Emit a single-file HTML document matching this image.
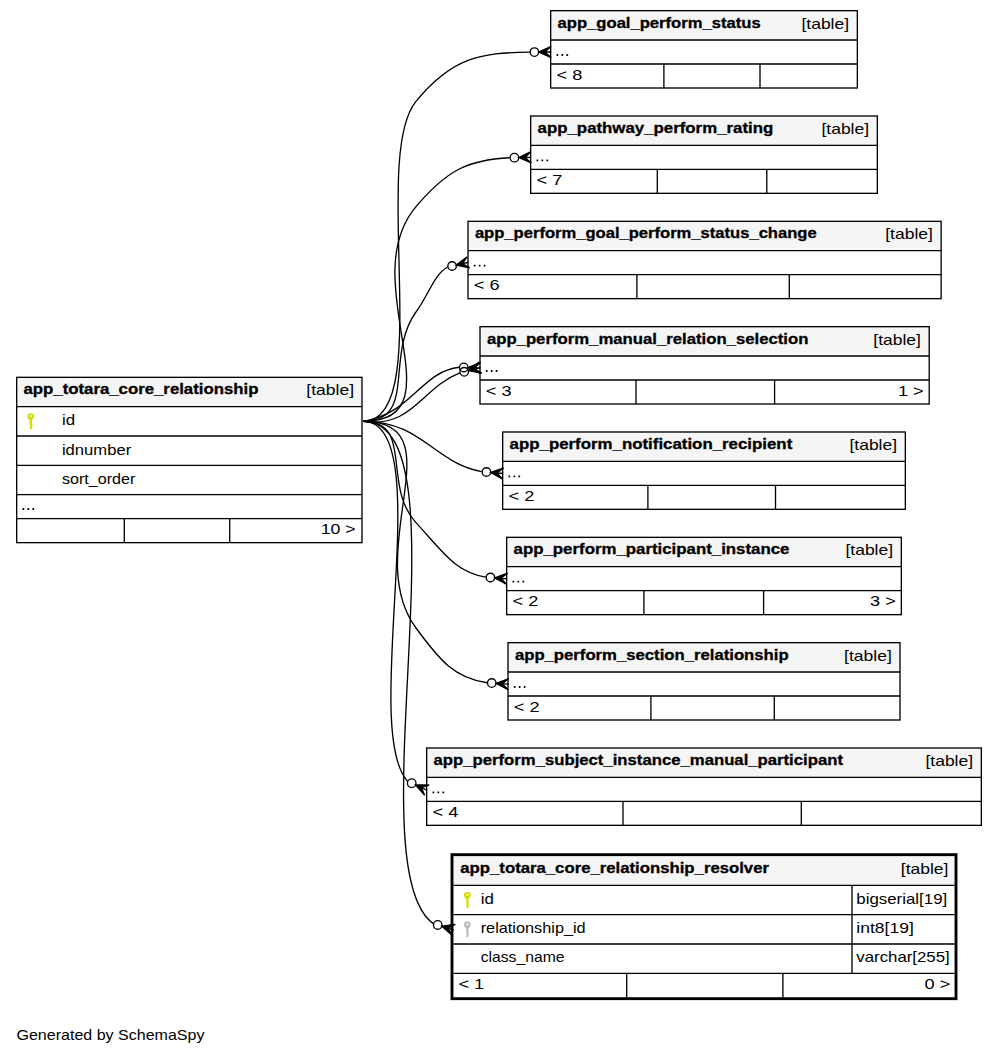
<!DOCTYPE html>
<html><head><meta charset="utf-8"><style>
html,body{margin:0;padding:0;background:#fff;}
svg{display:block;}
text{font-family:"Liberation Sans",sans-serif;}
</style></head><body>
<svg width="997" height="1055" viewBox="0 0 997 1055">
<rect x="0" y="0" width="997" height="1055" fill="#fff"/>
<rect x="550.67" y="10.67" width="306.67" height="29.33" fill="#f5f5f5" stroke="none" stroke-width="1.0"/>
<rect x="550.67" y="10.67" width="306.67" height="77.33" fill="none" stroke="#000" stroke-width="1.33"/>
<line x1="550.67" y1="40.00" x2="857.33" y2="40.00" stroke="#000" stroke-width="1.33"/>
<line x1="550.67" y1="64.00" x2="857.33" y2="64.00" stroke="#000" stroke-width="1.33"/>
<line x1="663.90" y1="64.00" x2="663.90" y2="88.00" stroke="#000" stroke-width="1.33"/>
<line x1="760.00" y1="64.00" x2="760.00" y2="88.00" stroke="#000" stroke-width="1.33"/>
<text x="557.57" y="27.57" font-weight="bold" font-size="15.0" textLength="203.11" lengthAdjust="spacingAndGlyphs" fill="#000" stroke="#000" stroke-width="0.3">app_goal_perform_status</text>
<text x="801.43" y="28.67" font-weight="normal" font-size="15.0" textLength="47.71" lengthAdjust="spacingAndGlyphs" fill="#000">[table]</text>
<rect x="556.52" y="54.05" width="1.7" height="1.9" rx="0.35" fill="#000"/>
<rect x="561.47" y="54.05" width="1.7" height="1.9" rx="0.35" fill="#000"/>
<rect x="566.42" y="54.05" width="1.7" height="1.9" rx="0.35" fill="#000"/>
<text x="556.47" y="79.80" font-weight="normal" font-size="15.0" textLength="25.80" lengthAdjust="spacingAndGlyphs" fill="#000">&lt; 8</text>
<rect x="530.67" y="116.00" width="346.67" height="29.33" fill="#f5f5f5" stroke="none" stroke-width="1.0"/>
<rect x="530.67" y="116.00" width="346.67" height="77.33" fill="none" stroke="#000" stroke-width="1.33"/>
<line x1="530.67" y1="145.33" x2="877.33" y2="145.33" stroke="#000" stroke-width="1.33"/>
<line x1="530.67" y1="169.33" x2="877.33" y2="169.33" stroke="#000" stroke-width="1.33"/>
<line x1="657.30" y1="169.33" x2="657.30" y2="193.33" stroke="#000" stroke-width="1.33"/>
<line x1="766.80" y1="169.33" x2="766.80" y2="193.33" stroke="#000" stroke-width="1.33"/>
<text x="537.57" y="132.90" font-weight="bold" font-size="15.0" textLength="235.70" lengthAdjust="spacingAndGlyphs" fill="#000" stroke="#000" stroke-width="0.3">app_pathway_perform_rating</text>
<text x="821.43" y="134.00" font-weight="normal" font-size="15.0" textLength="47.71" lengthAdjust="spacingAndGlyphs" fill="#000">[table]</text>
<rect x="536.52" y="159.38" width="1.7" height="1.9" rx="0.35" fill="#000"/>
<rect x="541.47" y="159.38" width="1.7" height="1.9" rx="0.35" fill="#000"/>
<rect x="546.42" y="159.38" width="1.7" height="1.9" rx="0.35" fill="#000"/>
<text x="536.47" y="185.13" font-weight="normal" font-size="15.0" textLength="25.80" lengthAdjust="spacingAndGlyphs" fill="#000">&lt; 7</text>
<rect x="468.00" y="221.33" width="473.15" height="29.33" fill="#f5f5f5" stroke="none" stroke-width="1.0"/>
<rect x="468.00" y="221.33" width="473.15" height="77.33" fill="none" stroke="#000" stroke-width="1.33"/>
<line x1="468.00" y1="250.67" x2="941.15" y2="250.67" stroke="#000" stroke-width="1.33"/>
<line x1="468.00" y1="274.67" x2="941.15" y2="274.67" stroke="#000" stroke-width="1.33"/>
<line x1="636.90" y1="274.67" x2="636.90" y2="298.67" stroke="#000" stroke-width="1.33"/>
<line x1="789.30" y1="274.67" x2="789.30" y2="298.67" stroke="#000" stroke-width="1.33"/>
<text x="474.90" y="238.23" font-weight="bold" font-size="15.0" textLength="341.78" lengthAdjust="spacingAndGlyphs" fill="#000" stroke="#000" stroke-width="0.3">app_perform_goal_perform_status_change</text>
<text x="885.24" y="239.33" font-weight="normal" font-size="15.0" textLength="47.71" lengthAdjust="spacingAndGlyphs" fill="#000">[table]</text>
<rect x="473.85" y="264.72" width="1.7" height="1.9" rx="0.35" fill="#000"/>
<rect x="478.80" y="264.72" width="1.7" height="1.9" rx="0.35" fill="#000"/>
<rect x="483.75" y="264.72" width="1.7" height="1.9" rx="0.35" fill="#000"/>
<text x="473.80" y="290.47" font-weight="normal" font-size="15.0" textLength="25.80" lengthAdjust="spacingAndGlyphs" fill="#000">&lt; 6</text>
<rect x="480.00" y="326.67" width="449.20" height="29.33" fill="#f5f5f5" stroke="none" stroke-width="1.0"/>
<rect x="480.00" y="326.67" width="449.20" height="77.33" fill="none" stroke="#000" stroke-width="1.33"/>
<line x1="480.00" y1="356.00" x2="929.20" y2="356.00" stroke="#000" stroke-width="1.33"/>
<line x1="480.00" y1="380.00" x2="929.20" y2="380.00" stroke="#000" stroke-width="1.33"/>
<line x1="636.00" y1="380.00" x2="636.00" y2="404.00" stroke="#000" stroke-width="1.33"/>
<line x1="774.60" y1="380.00" x2="774.60" y2="404.00" stroke="#000" stroke-width="1.33"/>
<text x="486.90" y="343.57" font-weight="bold" font-size="15.0" textLength="321.48" lengthAdjust="spacingAndGlyphs" fill="#000" stroke="#000" stroke-width="0.3">app_perform_manual_relation_selection</text>
<text x="873.29" y="344.67" font-weight="normal" font-size="15.0" textLength="47.71" lengthAdjust="spacingAndGlyphs" fill="#000">[table]</text>
<rect x="485.85" y="370.05" width="1.7" height="1.9" rx="0.35" fill="#000"/>
<rect x="490.80" y="370.05" width="1.7" height="1.9" rx="0.35" fill="#000"/>
<rect x="495.75" y="370.05" width="1.7" height="1.9" rx="0.35" fill="#000"/>
<text x="485.80" y="395.80" font-weight="normal" font-size="15.0" textLength="25.80" lengthAdjust="spacingAndGlyphs" fill="#000">&lt; 3</text>
<text x="897.90" y="395.80" font-weight="normal" font-size="15.0" textLength="25.80" lengthAdjust="spacingAndGlyphs" fill="#000">1 &gt;</text>
<rect x="502.67" y="432.00" width="402.67" height="29.33" fill="#f5f5f5" stroke="none" stroke-width="1.0"/>
<rect x="502.67" y="432.00" width="402.67" height="77.33" fill="none" stroke="#000" stroke-width="1.33"/>
<line x1="502.67" y1="461.33" x2="905.33" y2="461.33" stroke="#000" stroke-width="1.33"/>
<line x1="502.67" y1="485.33" x2="905.33" y2="485.33" stroke="#000" stroke-width="1.33"/>
<line x1="647.90" y1="485.33" x2="647.90" y2="509.33" stroke="#000" stroke-width="1.33"/>
<line x1="775.50" y1="485.33" x2="775.50" y2="509.33" stroke="#000" stroke-width="1.33"/>
<text x="509.57" y="448.90" font-weight="bold" font-size="15.0" textLength="282.71" lengthAdjust="spacingAndGlyphs" fill="#000" stroke="#000" stroke-width="0.3">app_perform_notification_recipient</text>
<text x="849.43" y="450.00" font-weight="normal" font-size="15.0" textLength="47.71" lengthAdjust="spacingAndGlyphs" fill="#000">[table]</text>
<rect x="508.52" y="475.38" width="1.7" height="1.9" rx="0.35" fill="#000"/>
<rect x="513.47" y="475.38" width="1.7" height="1.9" rx="0.35" fill="#000"/>
<rect x="518.42" y="475.38" width="1.7" height="1.9" rx="0.35" fill="#000"/>
<text x="508.47" y="501.13" font-weight="normal" font-size="15.0" textLength="25.80" lengthAdjust="spacingAndGlyphs" fill="#000">&lt; 2</text>
<rect x="506.67" y="537.33" width="394.67" height="29.33" fill="#f5f5f5" stroke="none" stroke-width="1.0"/>
<rect x="506.67" y="537.33" width="394.67" height="77.33" fill="none" stroke="#000" stroke-width="1.33"/>
<line x1="506.67" y1="566.67" x2="901.33" y2="566.67" stroke="#000" stroke-width="1.33"/>
<line x1="506.67" y1="590.67" x2="901.33" y2="590.67" stroke="#000" stroke-width="1.33"/>
<line x1="643.90" y1="590.67" x2="643.90" y2="614.67" stroke="#000" stroke-width="1.33"/>
<line x1="763.60" y1="590.67" x2="763.60" y2="614.67" stroke="#000" stroke-width="1.33"/>
<text x="513.57" y="554.23" font-weight="bold" font-size="15.0" textLength="275.87" lengthAdjust="spacingAndGlyphs" fill="#000" stroke="#000" stroke-width="0.3">app_perform_participant_instance</text>
<text x="845.43" y="555.33" font-weight="normal" font-size="15.0" textLength="47.71" lengthAdjust="spacingAndGlyphs" fill="#000">[table]</text>
<rect x="512.52" y="580.72" width="1.7" height="1.9" rx="0.35" fill="#000"/>
<rect x="517.47" y="580.72" width="1.7" height="1.9" rx="0.35" fill="#000"/>
<rect x="522.42" y="580.72" width="1.7" height="1.9" rx="0.35" fill="#000"/>
<text x="512.47" y="606.47" font-weight="normal" font-size="15.0" textLength="25.80" lengthAdjust="spacingAndGlyphs" fill="#000">&lt; 2</text>
<text x="870.03" y="606.47" font-weight="normal" font-size="15.0" textLength="25.80" lengthAdjust="spacingAndGlyphs" fill="#000">3 &gt;</text>
<rect x="508.00" y="642.67" width="392.00" height="29.33" fill="#f5f5f5" stroke="none" stroke-width="1.0"/>
<rect x="508.00" y="642.67" width="392.00" height="77.33" fill="none" stroke="#000" stroke-width="1.33"/>
<line x1="508.00" y1="672.00" x2="900.00" y2="672.00" stroke="#000" stroke-width="1.33"/>
<line x1="508.00" y1="696.00" x2="900.00" y2="696.00" stroke="#000" stroke-width="1.33"/>
<line x1="650.90" y1="696.00" x2="650.90" y2="720.00" stroke="#000" stroke-width="1.33"/>
<line x1="774.30" y1="696.00" x2="774.30" y2="720.00" stroke="#000" stroke-width="1.33"/>
<text x="514.90" y="659.57" font-weight="bold" font-size="15.0" textLength="273.76" lengthAdjust="spacingAndGlyphs" fill="#000" stroke="#000" stroke-width="0.3">app_perform_section_relationship</text>
<text x="844.09" y="660.67" font-weight="normal" font-size="15.0" textLength="47.71" lengthAdjust="spacingAndGlyphs" fill="#000">[table]</text>
<rect x="513.85" y="686.05" width="1.7" height="1.9" rx="0.35" fill="#000"/>
<rect x="518.80" y="686.05" width="1.7" height="1.9" rx="0.35" fill="#000"/>
<rect x="523.75" y="686.05" width="1.7" height="1.9" rx="0.35" fill="#000"/>
<text x="513.80" y="711.80" font-weight="normal" font-size="15.0" textLength="25.80" lengthAdjust="spacingAndGlyphs" fill="#000">&lt; 2</text>
<rect x="426.67" y="748.00" width="554.67" height="29.33" fill="#f5f5f5" stroke="none" stroke-width="1.0"/>
<rect x="426.67" y="748.00" width="554.67" height="77.33" fill="none" stroke="#000" stroke-width="1.33"/>
<line x1="426.67" y1="777.33" x2="981.33" y2="777.33" stroke="#000" stroke-width="1.33"/>
<line x1="426.67" y1="801.33" x2="981.33" y2="801.33" stroke="#000" stroke-width="1.33"/>
<line x1="623.00" y1="801.33" x2="623.00" y2="825.33" stroke="#000" stroke-width="1.33"/>
<line x1="801.30" y1="801.33" x2="801.30" y2="825.33" stroke="#000" stroke-width="1.33"/>
<text x="433.57" y="764.90" font-weight="bold" font-size="15.0" textLength="409.40" lengthAdjust="spacingAndGlyphs" fill="#000" stroke="#000" stroke-width="0.3">app_perform_subject_instance_manual_participant</text>
<text x="925.43" y="766.00" font-weight="normal" font-size="15.0" textLength="47.71" lengthAdjust="spacingAndGlyphs" fill="#000">[table]</text>
<rect x="432.52" y="791.38" width="1.7" height="1.9" rx="0.35" fill="#000"/>
<rect x="437.47" y="791.38" width="1.7" height="1.9" rx="0.35" fill="#000"/>
<rect x="442.42" y="791.38" width="1.7" height="1.9" rx="0.35" fill="#000"/>
<text x="432.47" y="817.13" font-weight="normal" font-size="15.0" textLength="25.80" lengthAdjust="spacingAndGlyphs" fill="#000">&lt; 4</text>
<rect x="16.67" y="377.33" width="345.33" height="29.33" fill="#f5f5f5" stroke="none" stroke-width="1.0"/>
<rect x="16.67" y="377.33" width="345.33" height="165.33" fill="none" stroke="#000" stroke-width="1.33"/>
<line x1="16.67" y1="406.67" x2="362.00" y2="406.67" stroke="#000" stroke-width="1.33"/>
<line x1="16.67" y1="436.00" x2="362.00" y2="436.00" stroke="#000" stroke-width="1.33"/>
<line x1="16.67" y1="465.33" x2="362.00" y2="465.33" stroke="#000" stroke-width="1.33"/>
<line x1="16.67" y1="494.67" x2="362.00" y2="494.67" stroke="#000" stroke-width="1.33"/>
<line x1="16.67" y1="518.67" x2="362.00" y2="518.67" stroke="#000" stroke-width="1.33"/>
<line x1="124.30" y1="518.67" x2="124.30" y2="542.67" stroke="#000" stroke-width="1.33"/>
<line x1="229.70" y1="518.67" x2="229.70" y2="542.67" stroke="#000" stroke-width="1.33"/>
<text x="23.47" y="393.83" font-weight="bold" font-size="15.0" textLength="234.98" lengthAdjust="spacingAndGlyphs" fill="#000" stroke="#000" stroke-width="0.3">app_totara_core_relationship</text>
<text x="306.39" y="395.03" font-weight="normal" font-size="15.0" textLength="47.71" lengthAdjust="spacingAndGlyphs" fill="#000">[table]</text>
<g fill="#d4de00" stroke="none"><circle cx="30.80" cy="416.57" r="3.3"/><path d="M29.50,418.57 L32.10,418.57 L31.80,429.17 L29.90,429.17 Z"/><rect x="31.60" y="423.87" width="1.2" height="0.9"/><rect x="31.60" y="426.17" width="1.2" height="0.9"/></g><circle cx="30.80" cy="416.07" r="1.0" fill="#fff"/>
<text x="61.90" y="425.37" font-weight="normal" font-size="15.0" textLength="13.14" lengthAdjust="spacingAndGlyphs" fill="#000">id</text>
<text x="61.90" y="454.70" font-weight="normal" font-size="15.0" textLength="69.34" lengthAdjust="spacingAndGlyphs" fill="#000">idnumber</text>
<text x="61.90" y="484.03" font-weight="normal" font-size="15.0" textLength="73.48" lengthAdjust="spacingAndGlyphs" fill="#000">sort_order</text>
<rect x="22.52" y="508.12" width="1.7" height="1.9" rx="0.35" fill="#000"/>
<rect x="27.47" y="508.12" width="1.7" height="1.9" rx="0.35" fill="#000"/>
<rect x="32.42" y="508.12" width="1.7" height="1.9" rx="0.35" fill="#000"/>
<text x="320.74" y="534.47" font-weight="normal" font-size="15.0" textLength="34.97" lengthAdjust="spacingAndGlyphs" fill="#000">10 &gt;</text>
<rect x="453.33" y="856.00" width="501.33" height="29.33" fill="#f5f5f5" stroke="none" stroke-width="1.0"/>
<rect x="452.00" y="854.67" width="504.00" height="144.00" fill="none" stroke="#000" stroke-width="2.9"/>
<line x1="453.33" y1="885.33" x2="954.67" y2="885.33" stroke="#000" stroke-width="1.33"/>
<line x1="453.33" y1="914.67" x2="954.67" y2="914.67" stroke="#000" stroke-width="1.33"/>
<line x1="453.33" y1="944.00" x2="954.67" y2="944.00" stroke="#000" stroke-width="1.33"/>
<line x1="453.33" y1="973.33" x2="954.67" y2="973.33" stroke="#000" stroke-width="1.33"/>
<line x1="852.00" y1="885.33" x2="852.00" y2="973.33" stroke="#000" stroke-width="1.33"/>
<line x1="626.70" y1="973.33" x2="626.70" y2="997.33" stroke="#000" stroke-width="1.33"/>
<line x1="782.90" y1="973.33" x2="782.90" y2="997.33" stroke="#000" stroke-width="1.33"/>
<text x="460.30" y="873.07" font-weight="bold" font-size="15.0" textLength="308.70" lengthAdjust="spacingAndGlyphs" fill="#000" stroke="#000" stroke-width="0.3">app_totara_core_relationship_resolver</text>
<text x="900.79" y="874.07" font-weight="normal" font-size="15.0" textLength="47.71" lengthAdjust="spacingAndGlyphs" fill="#000">[table]</text>
<g fill="#d4de00" stroke="none"><circle cx="467.30" cy="895.33" r="3.3"/><path d="M466.00,897.33 L468.60,897.33 L468.30,907.93 L466.40,907.93 Z"/><rect x="468.10" y="902.63" width="1.2" height="0.9"/><rect x="468.10" y="904.93" width="1.2" height="0.9"/></g><circle cx="467.30" cy="894.83" r="1.0" fill="#fff"/>
<g fill="#bdbdbd" stroke="none"><circle cx="467.30" cy="924.67" r="3.3"/><path d="M466.00,926.67 L468.60,926.67 L468.30,937.27 L466.40,937.27 Z"/><rect x="468.10" y="931.97" width="1.2" height="0.9"/><rect x="468.10" y="934.27" width="1.2" height="0.9"/></g><circle cx="467.30" cy="924.17" r="1.0" fill="#fff"/>
<text x="480.70" y="903.83" font-weight="normal" font-size="15.0" textLength="13.14" lengthAdjust="spacingAndGlyphs" fill="#000">id</text>
<text x="480.70" y="932.97" font-weight="normal" font-size="15.0" textLength="104.98" lengthAdjust="spacingAndGlyphs" fill="#000">relationship_id</text>
<text x="480.70" y="962.10" font-weight="normal" font-size="15.0" textLength="83.78" lengthAdjust="spacingAndGlyphs" fill="#000">class_name</text>
<text x="856.30" y="903.83" font-weight="normal" font-size="15.0" textLength="90.95" lengthAdjust="spacingAndGlyphs" fill="#000">bigserial[19]</text>
<text x="856.30" y="932.97" font-weight="normal" font-size="15.0" textLength="57.49" lengthAdjust="spacingAndGlyphs" fill="#000">int8[19]</text>
<text x="856.30" y="962.10" font-weight="normal" font-size="15.0" textLength="93.46" lengthAdjust="spacingAndGlyphs" fill="#000">varchar[255]</text>
<text x="458.40" y="988.93" font-weight="normal" font-size="15.0" textLength="25.80" lengthAdjust="spacingAndGlyphs" fill="#000">&lt; 1</text>
<text x="924.60" y="988.93" font-weight="normal" font-size="15.0" textLength="25.80" lengthAdjust="spacingAndGlyphs" fill="#000">0 &gt;</text>
<text x="16.50" y="1040.00" font-weight="normal" font-size="15.0" textLength="187.91" lengthAdjust="spacingAndGlyphs" fill="#000">Generated by SchemaSpy</text>
<path d="M529.73,52.08 C479.48,52.71 451.81,57.92 416.00,101.33 370.13,156.92 435.40,421.33 363.33,421.33" fill="none" stroke="#000" stroke-width="1.33"/>
<polygon points="538.67,52.04 551.12,46.38 544.91,52.02 551.15,51.99 551.15,51.99 551.15,51.99 544.91,52.02 551.18,57.61 538.67,52.04 538.67,52.04" fill="#000" stroke="#000" stroke-width="1.33" stroke-linejoin="miter" stroke-miterlimit="6"/>
<circle cx="534.40" cy="52.07" r="4.27" fill="none" stroke="#000" stroke-width="1.33"/>
<path d="M509.59,157.76 C468.27,159.80 446.84,170.08 416.00,206.67 352.68,281.77 461.57,421.33 363.33,421.33" fill="none" stroke="#000" stroke-width="1.33"/>
<polygon points="518.67,157.56 531.02,151.68 524.91,157.44 531.15,157.29 531.15,157.29 531.15,157.29 524.91,157.44 531.27,162.91 518.67,157.56 518.67,157.56" fill="#000" stroke="#000" stroke-width="1.33" stroke-linejoin="miter" stroke-miterlimit="6"/>
<circle cx="514.40" cy="157.65" r="4.27" fill="none" stroke="#000" stroke-width="1.33"/>
<path d="M447.63,267.04 C433.63,275.07 429.63,293.07 416.00,312.00 384.49,355.77 417.27,421.33 363.33,421.33" fill="none" stroke="#000" stroke-width="1.33"/>
<polygon points="456.27,265.05 467.17,256.79 462.35,263.66 468.43,262.26 468.43,262.26 468.43,262.26 462.35,263.66 469.70,267.74 456.27,265.05 456.27,265.05" fill="#000" stroke="#000" stroke-width="1.33" stroke-linejoin="miter" stroke-miterlimit="6"/>
<circle cx="452.11" cy="266.01" r="4.27" fill="none" stroke="#000" stroke-width="1.33"/>
<path d="M459.81,372.92 C420.75,388.37 412.75,428.33 363.33,421.33" fill="none" stroke="#000" stroke-width="1.33"/>
<polygon points="468.35,370.69 479.00,362.11 474.38,369.12 480.42,367.54 480.42,367.54 480.42,367.54 474.38,369.12 481.84,372.97 468.35,370.69 468.35,370.69" fill="#000" stroke="#000" stroke-width="1.33" stroke-linejoin="miter" stroke-miterlimit="6"/>
<circle cx="464.21" cy="371.77" r="4.27" fill="none" stroke="#000" stroke-width="1.33"/>
<path d="M459.29,367.28 C420.68,371.68 412.53,413.20 363.33,421.33" fill="none" stroke="#000" stroke-width="1.33"/>
<polygon points="468.01,367.61 480.68,362.45 474.24,367.83 480.48,368.07 480.48,368.07 480.48,368.07 474.24,367.83 480.27,373.68 468.01,367.61 468.01,367.61" fill="#000" stroke="#000" stroke-width="1.33" stroke-linejoin="miter" stroke-miterlimit="6"/>
<circle cx="463.75" cy="367.45" r="4.27" fill="none" stroke="#000" stroke-width="1.33"/>
<path d="M481.77,471.60 C433.57,462.59 421.71,421.33 363.33,421.33" fill="none" stroke="#000" stroke-width="1.33"/>
<polygon points="490.71,472.39 503.64,467.89 496.93,472.95 503.14,473.49 503.14,473.49 503.14,473.49 496.93,472.95 502.64,479.09 490.71,472.39 490.71,472.39" fill="#000" stroke="#000" stroke-width="1.33" stroke-linejoin="miter" stroke-miterlimit="6"/>
<circle cx="486.45" cy="472.01" r="4.27" fill="none" stroke="#000" stroke-width="1.33"/>
<path d="M485.80,577.12 C454.61,571.61 442.81,551.73 416.00,522.67 381.59,485.36 414.09,421.33 363.33,421.33" fill="none" stroke="#000" stroke-width="1.33"/>
<polygon points="494.69,577.83 507.58,573.21 500.92,578.31 507.14,578.81 507.14,578.81 507.14,578.81 500.92,578.31 506.71,584.41 494.69,577.83 494.69,577.83" fill="#000" stroke="#000" stroke-width="1.33" stroke-linejoin="miter" stroke-miterlimit="6"/>
<circle cx="490.44" cy="577.49" r="4.27" fill="none" stroke="#000" stroke-width="1.33"/>
<path d="M487.09,682.75 C454.36,678.09 439.76,660.36 416.00,628.00 359.89,551.60 458.12,421.33 363.33,421.33" fill="none" stroke="#000" stroke-width="1.33"/>
<polygon points="496.03,683.32 508.83,678.52 502.25,683.71 508.48,684.12 508.48,684.12 508.48,684.12 502.25,683.71 508.12,689.72 496.03,683.32 496.03,683.32" fill="#000" stroke="#000" stroke-width="1.33" stroke-linejoin="miter" stroke-miterlimit="6"/>
<circle cx="491.76" cy="683.05" r="4.27" fill="none" stroke="#000" stroke-width="1.33"/>
<path d="M407.55,781.31 C359.21,727.49 438.97,421.33 363.33,421.33" fill="none" stroke="#000" stroke-width="1.33"/>
<polygon points="415.61,784.95 429.29,784.96 421.29,787.51 426.99,790.08 426.99,790.08 426.99,790.08 421.29,787.51 424.68,795.20 415.61,784.95 415.61,784.95" fill="#000" stroke="#000" stroke-width="1.33" stroke-linejoin="miter" stroke-miterlimit="6"/>
<circle cx="411.72" cy="783.19" r="4.27" fill="none" stroke="#000" stroke-width="1.33"/>
<path d="M433.37,923.63 C353.97,867.81 470.76,421.33 363.33,421.33" fill="none" stroke="#000" stroke-width="1.33"/>
<polygon points="441.80,926.21 455.37,924.50 447.77,928.04 453.73,929.86 453.73,929.86 453.73,929.86 447.77,928.04 452.10,935.23 441.80,926.21 441.80,926.21" fill="#000" stroke="#000" stroke-width="1.33" stroke-linejoin="miter" stroke-miterlimit="6"/>
<circle cx="437.72" cy="924.96" r="4.27" fill="none" stroke="#000" stroke-width="1.33"/>
</svg>
</body></html>
